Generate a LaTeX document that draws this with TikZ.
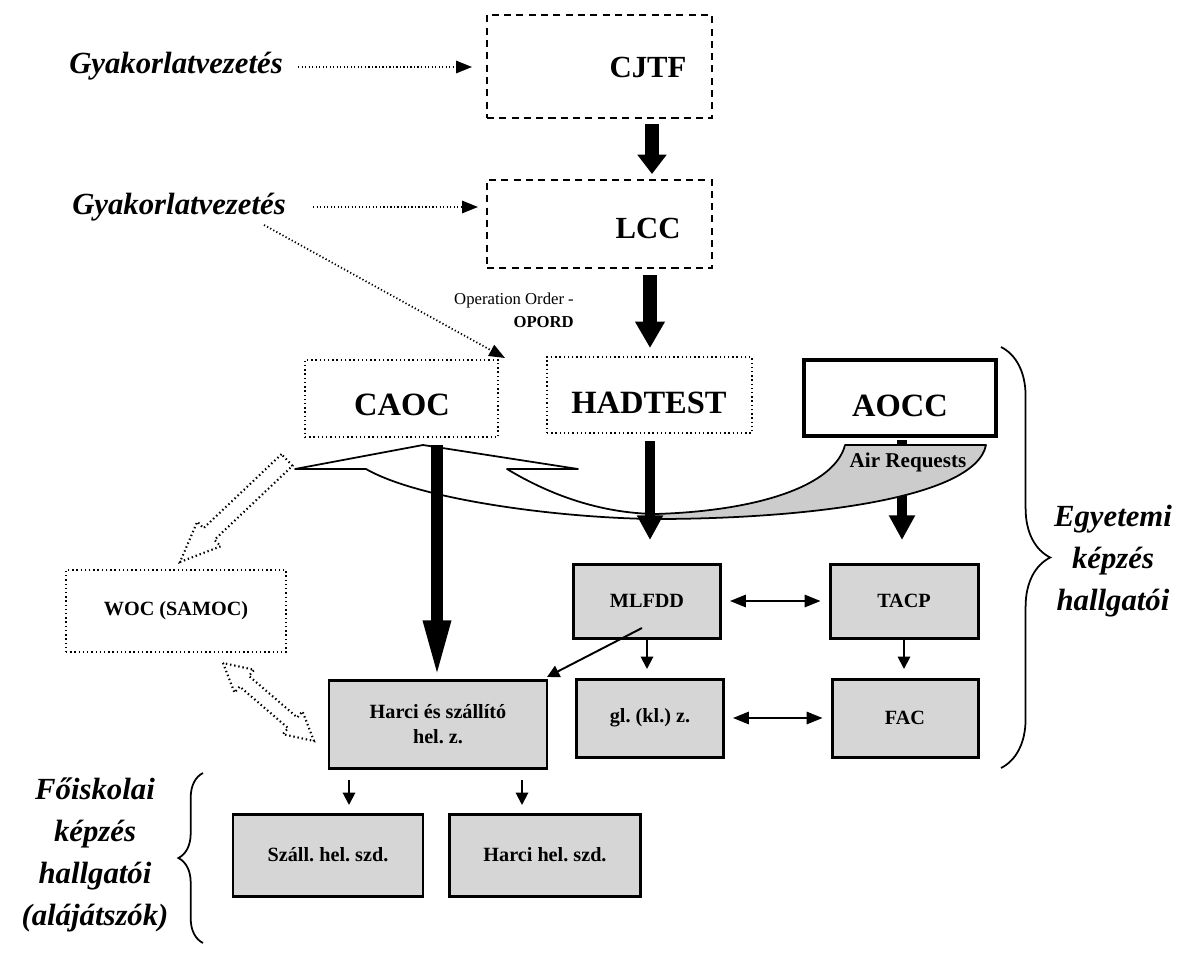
\documentclass[tikz,border=0pt]{standalone}
\usepackage{fontspec}
\setmainfont{Liberation Serif}
\usetikzlibrary{arrows.meta,decorations.pathreplacing,calc}
\begin{document}
\frenchspacing
\begin{tikzpicture}[x=0.02cm,y=-0.02cm,
  dashbox/.style={draw,dashed,line width=0.8pt,dash pattern=on 4pt off 3pt,minimum width=225*0.02cm,inner sep=0pt},
  dotbox/.style={draw,line width=1.2pt,dash pattern=on 0.8pt off 1.6pt,inner sep=0pt},
  greybox/.style={draw,line width=1.7pt,fill=black!16,inner sep=0pt,align=center,font=\fontsize{11.5}{14}\selectfont\bfseries},
  bigarrow/.style={line width=7.5pt,-{Triangle[width=16pt,length=11pt]}},
  longarrow/.style={line width=7.5pt,-{Triangle[width=16pt,length=15pt]}},
  midarrow/.style={line width=5.5pt,-{Triangle[width=14pt,length=14pt]}},
  smallarrow/.style={line width=1.1pt,-{Triangle[width=7pt,length=7pt]}},
  dblarrow/.style={line width=1.1pt,{Triangle[width=7pt,length=9pt]}-{Triangle[width=7pt,length=9pt]}},
  dotarrow/.style={line width=1pt,dash pattern=on 0.7pt off 1.3pt,-{Triangle[width=7pt,length=9pt]}},
  sidetext/.style={font=\fontsize{17.5}{24}\selectfont\bfseries\itshape,align=center},
  bigtext/.style={font=\fontsize{17.5}{20}\selectfont\bfseries},
  hugetext/.style={font=\fontsize{18.5}{22}\selectfont\bfseries}]
\useasboundingbox (0,0) rectangle (1184,954);

% top boxes
\node[dashbox,minimum height=103*0.02cm] (cjtf) at (599.5,66.5) {};
\node[bigtext] (cjtft) at (648,67) {CJTF};
\node[dashbox,minimum height=88*0.02cm] (lcc) at (599.5,224) {};
\node[bigtext] (lcct) at (648,228) {LCC};
\node[sidetext] (g1) at (176,66) {Gyakorlatvezetés};
\node[sidetext] (g2) at (179,207) {Gyakorlatvezetés};
\coordinate (g1e) at (298,67);
\coordinate (g1t) at (472,67);
\coordinate (g2e) at (313,207);
\coordinate (g2t) at (478,207);
\coordinate (g2d) at (264,225);
\coordinate (g2dt) at (505,358);
\draw[dotarrow] (g1e) -- (g1t);
\draw[dotarrow] (g2e) -- (g2t);
\draw[dotarrow] (g2d) -- (g2dt);
\draw[bigarrow] (652,124) -- (652,174);

\node[font=\fontsize{9.5}{13}\selectfont,align=right,anchor=east] (op) at (580,310) {Operation Order -\\\textbf{OPORD}};

% middle boxes
\node[dotbox,minimum width=193*0.02cm,minimum height=77*0.02cm] (caoc) at (401.5,398.5) {};
\node[hugetext] at (402,405) {CAOC};
\node[dotbox,minimum width=205*0.02cm,minimum height=76*0.02cm] (hadtest) at (649.5,395) {};
\node[hugetext] at (649,403) {HADTEST};
\node[draw,line width=2.2pt,minimum width=192*0.02cm,minimum height=76*0.02cm,inner sep=0pt] (aocc) at (900,398) {};
\node[hugetext] at (900,406) {AOCC};
\draw[longarrow] (650,275) -- (650,348);

% AOCC -> TACP arrow (under band)
\draw[midarrow] (902,440) -- (902,540);

% the curved band
\def\bandpath{(295,469) -- (423,445) -- (578,469) -- (507,469)
  .. controls (550,495) and (600,513) .. (655,514)
  .. controls (760,511) and (835,485) .. (845,445)
  -- (986,445)
  .. controls (975,500) and (800,519) .. (655,519)
  .. controls (560,518) and (420,500) .. (366,469) -- cycle}
\fill[white] \bandpath;
\begin{scope}
\clip (655,400) rectangle (1000,540);
\fill[black!20] \bandpath;
\end{scope}
\draw[line width=1pt,line join=round] \bandpath;
\node[font=\fontsize{12}{14}\selectfont\bfseries] (air) at (908,462) {Air Requests};

% lower boxes
\node[greybox,minimum width=147*0.02cm,minimum height=74*0.02cm] (mlfdd) at (647,601) {MLFDD};
\node[greybox,minimum width=148*0.02cm,minimum height=74*0.02cm] (tacp) at (904,601) {TACP};
\node[dotbox,minimum width=220*0.02cm,minimum height=82*0.02cm,font=\fontsize{11.5}{14}\selectfont\bfseries] (woc) at (176,611) {WOC (SAMOC)};
\node[greybox,minimum width=218*0.02cm,minimum height=88*0.02cm] (harci) at (438,724) {Harci és szállító\\hel. z.};
\node[greybox,minimum width=147*0.02cm,minimum height=78*0.02cm] (gl) at (650,718) {gl. (kl.) z.};
\node[greybox,minimum width=146*0.02cm,minimum height=78*0.02cm] (fac) at (905,718) {FAC};
\node[greybox,minimum width=190*0.02cm,minimum height=82*0.02cm] (szall) at (328,855) {Száll. hel. szd.};
\node[greybox,minimum width=191*0.02cm,minimum height=82*0.02cm] (harcihel) at (545,855) {Harci hel. szd.};

% arrows
\draw[midarrow] (650,441) -- (650,540);
\draw[line width=7pt,-{Triangle[width=14pt,length=34pt]}] (437,445) -- (437,680);
\draw[dblarrow] ($(mlfdd.east)+(8,0)$) -- ($(tacp.west)+(-8,0)$);
\draw[dblarrow] ($(gl.east)+(8,0)$) -- ($(fac.west)+(-8,0)$);
\draw[smallarrow] (647,638) -- (647,669);
\draw[smallarrow] (904,638) -- (904,669);
\draw[smallarrow] (642,628) -- (547,677);
\draw[smallarrow] (349,780) -- (349,805);
\draw[smallarrow] (522,780) -- (522,805);

% hollow dotted arrows
\draw[dotbox,line join=miter] (281.5,454.2) -- (203.5,528.2) -- (197.3,521.7) -- (180,562) -- (220.7,546.3) -- (214.5,539.8) -- (292.5,465.8) -- cycle;
\draw[dotbox,line join=miter] (223,663) -- (234.5,692.6) -- (239.7,686.5) -- (288.1,728.1) -- (282.9,734.2) -- (314,741) -- (302.5,711.4) -- (297.3,717.5) -- (248.9,675.9) -- (254.1,669.8) -- cycle;

% braces
\draw[line width=1pt,decorate,decoration={brace,amplitude=28pt}] (1001,347) -- (1001,768);
\node[sidetext] (egy) at (1113,561) {Egyetemi\\képzés\\hallgatói};
\draw[line width=1pt,decorate,decoration={brace,amplitude=14pt}] (203,943) -- (203,773);
\node[sidetext] (foi) at (95,855) {Főiskolai\\képzés\\hallgatói\\(alájátszók)};
\end{tikzpicture}
\end{document}
